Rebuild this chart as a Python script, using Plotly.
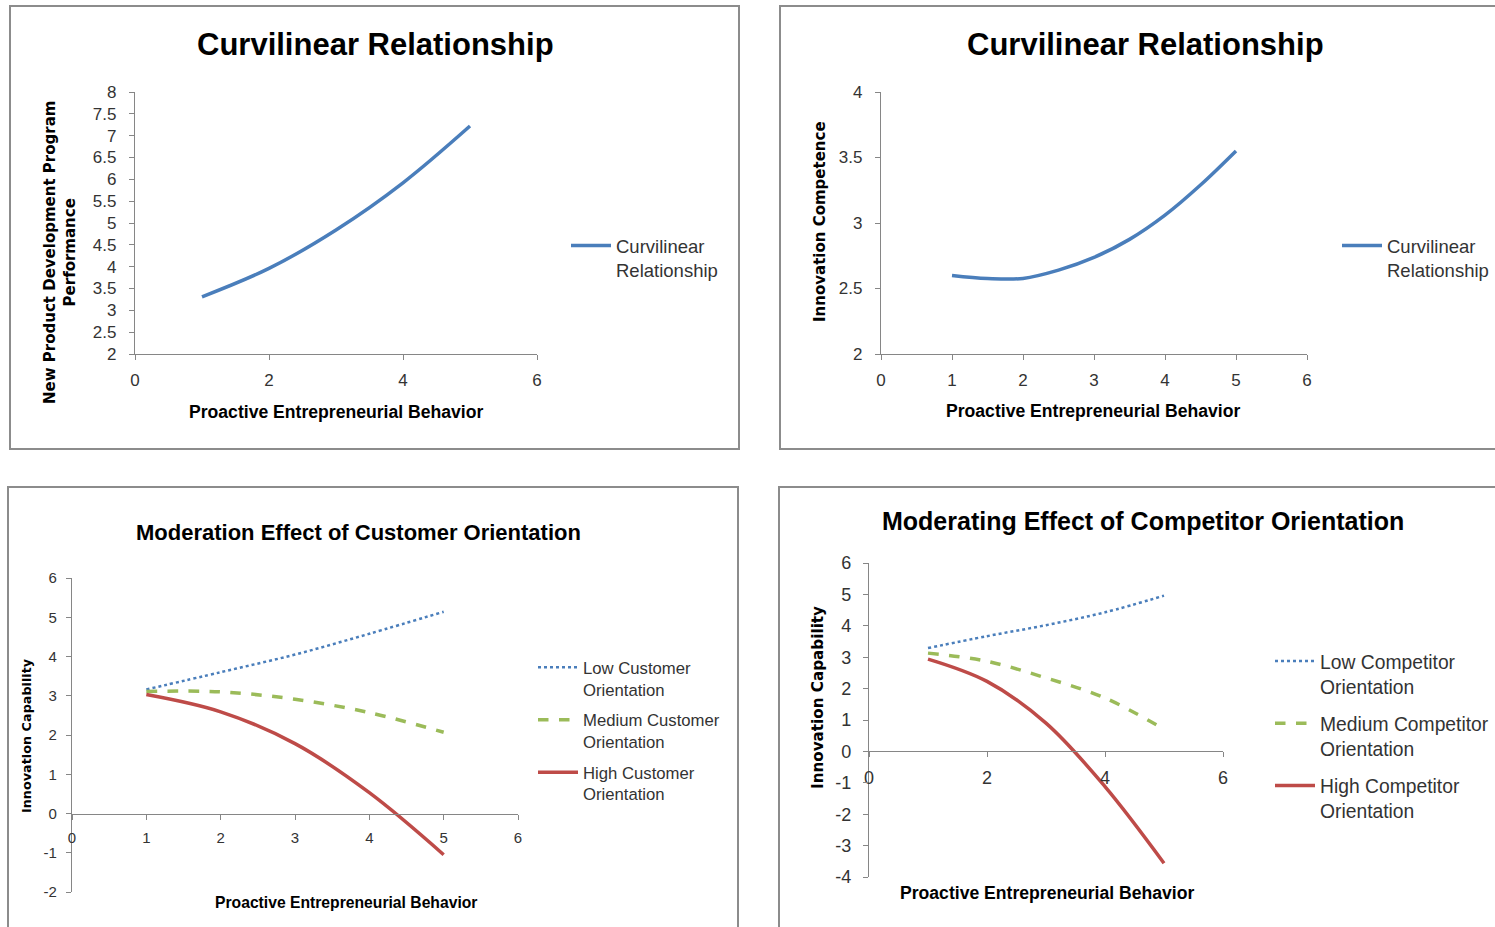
import plotly.graph_objects as go

W, H = 1495, 927
def px(x): return x / W
def py(y): return 1 - y / H

# ---------------- data ----------------
x_vals = [1, 2, 3, 4, 5]
# panel 1: New Product Development Program Performance
npd_perf = [3.31, 3.96, 4.84, 5.92, 7.22]
# panel 2: Innovation Competence
x_half = [1, 1.5, 2, 2.5, 3, 3.5, 4, 4.5, 5]
innov_comp = [2.60, 2.577, 2.577, 2.64, 2.737, 2.875, 3.06, 3.29, 3.55]
# panel 3: customer orientation moderation
cust_low = [3.16, 3.60, 4.05, 4.58, 5.14]
cust_med = [3.11, 3.10, 2.91, 2.57, 2.07]
cust_high = [3.03, 2.59, 1.78, 0.53, -1.05]
# panel 4: competitor orientation moderation
comp_low = [3.29, 3.67, 4.02, 4.43, 4.96]
comp_med = [3.13, 2.87, 2.34, 1.70, 0.71]
comp_high = [2.94, 2.23, 0.90, -1.12, -3.56]

# tick labels (hyphen minus as in the original)
y3_ticks = [-2, -1, 0, 1, 2, 3, 4, 5, 6]
y3_labels = ["-2", "-1", "0", "1", "2", "3", "4", "5", "6"]
y4_ticks = [-4, -3, -2, -1, 0, 1, 2, 3, 4, 5, 6]
y4_labels = ["-4", "-3", "-2", "-1", "0", "1", "2", "3", "4", "5", "6"]

BLUE = "#4A7EBB"
GREEN = "#9BBB59"
RED = "#BE4B48"
NARROW = "Liberation Sans Narrow, Arial Narrow, Liberation Sans, sans-serif"
WIDE = "DejaVu Sans, Verdana, sans-serif"
AXC = "#868686"
TXT = "#333333"

fig = go.Figure()

def add(x, y, name, color, dash, xa, ya, leg, grp, width=3.5):
    fig.add_trace(go.Scatter(
        x=x, y=y, name=name, mode="lines",
        line=dict(color=color, width=width, dash=dash, shape="spline", smoothing=1.0),
        xaxis=xa, yaxis=ya, legend=leg, legendgroup=grp, hoverinfo="skip"))

add(x_vals, npd_perf, "Curvilinear<br>Relationship", BLUE, "solid", "x", "y", "legend", "a")
add(x_half, innov_comp, "Curvilinear<br>Relationship", BLUE, "solid", "x2", "y2", "legend2", "b")
add(x_vals, cust_low, "Low Customer<br>Orientation", BLUE, "dot", "x3", "y3", "legend3", "c1", 2.5)
add(x_vals, cust_med, "Medium Customer<br>Orientation", GREEN, "dash", "x3", "y3", "legend3", "c2")
add(x_vals, cust_high, "High Customer<br>Orientation", RED, "solid", "x3", "y3", "legend3", "c3")
add(x_vals, comp_low, "Low Competitor<br>Orientation", BLUE, "dot", "x4", "y4", "legend4", "d1", 2.5)
add(x_vals, comp_med, "Medium Competitor<br>Orientation", GREEN, "dash", "x4", "y4", "legend4", "d2")
add(x_vals, comp_high, "High Competitor<br>Orientation", RED, "solid", "x4", "y4", "legend4", "d3")

def ax(domain, rng, dtick, size, standoff, **kw):
    d = dict(domain=domain, range=rng, dtick=dtick, showline=True, linecolor=AXC, linewidth=1.3,
             ticks="outside", ticklen=5, tickcolor=AXC, showgrid=False, zeroline=False,
             tickfont=dict(family=NARROW, size=size, color=TXT), fixedrange=True, automargin=False,
             ticklabelstandoff=standoff)
    d.update(kw)
    return d

layout = dict(
    width=W, height=H, margin=dict(l=0, r=0, t=0, b=0, pad=0, autoexpand=False),
    paper_bgcolor="white", plot_bgcolor="white", showlegend=True,
    xaxis=ax([px(135), px(537)], [0, 6], 2, 17, 5, anchor="y"),
    yaxis=ax([py(354), py(92)], [2, 8], 0.5, 17, 9, anchor="x"),
    xaxis2=ax([px(881), px(1307)], [0, 6], 1, 17, 5, anchor="y2"),
    yaxis2=ax([py(354), py(92)], [2, 4], 0.5, 17, 9, anchor="x2"),
    xaxis3=ax([px(72), px(518)], [0, 6], 1, 15, 5, anchor="free", position=py(814)),
    yaxis3=ax([py(892), py(578)], [-2, 6], 1, 15, 6, anchor="x3",
              tickmode="array", tickvals=y3_ticks, ticktext=y3_labels),
    xaxis4=ax([px(869), px(1223)], [0, 6], 2, 18, 5, anchor="free", position=py(751)),
    yaxis4=ax([py(877), py(563)], [-4, 6], 1, 18, 8, anchor="x4",
              tickmode="array", tickvals=y4_ticks, ticktext=y4_labels),
)

def leg(x, y, size, gap):
    return dict(x=px(x), y=py(y), xanchor="left", yanchor="top", bgcolor="rgba(0,0,0,0)",
                font=dict(family=NARROW, size=size, color=TXT), valign="top",
                tracegroupgap=gap, itemwidth=40)

layout["legend"] = leg(566, 227, 18.5, 0)
layout["legend2"] = leg(1337, 227, 18.5, 0)
layout["legend3"] = leg(533, 650, 16.7, 6)
layout["legend4"] = leg(1270, 642, 19.3, 9)

fig.update_layout(**layout)

# panel borders
for (x0, y0, x1, y1) in [(10, 6, 739, 449), (780, 6, 1510, 449), (8, 487, 738, 940), (779, 487, 1510, 940)]:
    fig.add_shape(type="rect", xref="paper", yref="paper", x0=px(x0), x1=px(x1), y0=py(y1), y1=py(y0),
                  line=dict(color="#8C8C8C", width=2), fillcolor="rgba(0,0,0,0)", layer="below")

def note(text, x, y, size, family=NARROW, angle=0):
    fig.add_annotation(text=text, x=px(x), y=py(y), xref="paper", yref="paper", showarrow=False,
                       xanchor="center", yanchor="middle", textangle=angle,
                       font=dict(family=family, size=size, color="black"))

note("<b>Curvilinear Relationship</b>", 375, 45, 31)
note("<b>New Product Development Program<br>Performance</b>", 60, 253, 15, WIDE, -90)
note("<b>Proactive Entrepreneurial Behavior</b>", 336, 412, 17.6)

note("<b>Curvilinear Relationship</b>", 1145, 45, 31)
note("<b>Innovation Competence</b>", 820, 222, 15, WIDE, -90)
note("<b>Proactive Entrepreneurial Behavior</b>", 1093, 411, 17.6)

note("<b>Moderation Effect of Customer Orientation</b>", 358, 532, 22)
note("<b>Innovation Capability</b>", 26, 736, 12.8, WIDE, -90)
note("<b>Proactive Entrepreneurial Behavior</b>", 346, 902, 15.7)

note("<b>Moderating Effect of Competitor Orientation</b>", 1143, 521, 25)
note("<b>Innovation Capability</b>", 818, 698, 15.2, WIDE, -90)
note("<b>Proactive Entrepreneurial Behavior</b>", 1047, 893, 17.6)

fig.write_html("out.html", config={"displayModeBar": False},
               post_script="document.body.style.margin='0';document.body.style.overflow='hidden';")
